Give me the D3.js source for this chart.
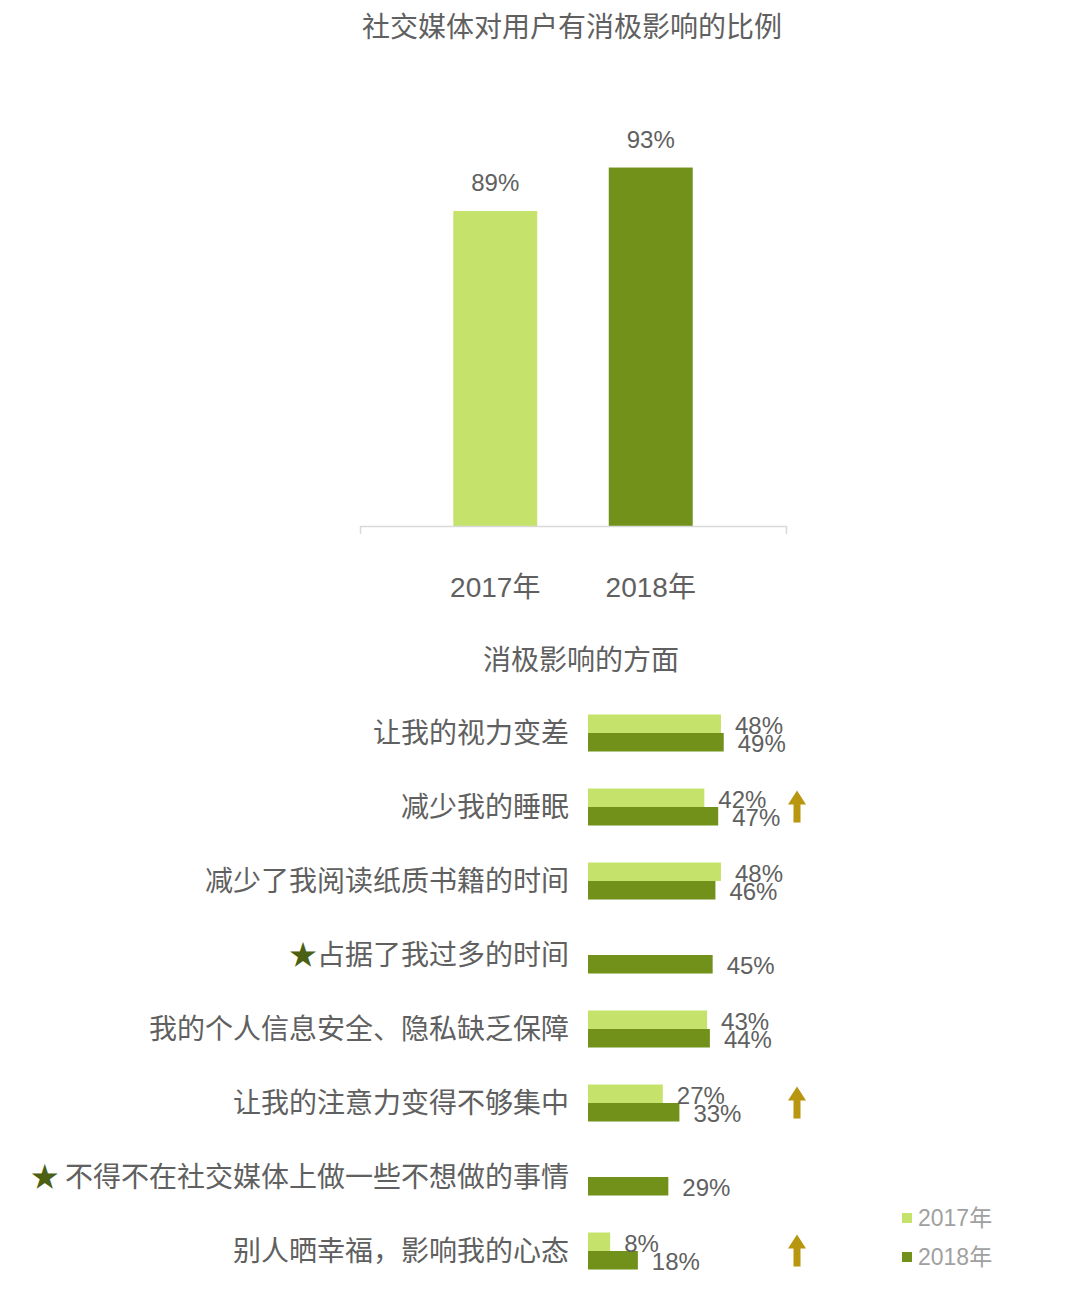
<!DOCTYPE html>
<html>
<head>
<meta charset="utf-8">
<script src="https://cdn.jsdelivr.net/npm/d3@7"></script>
<style>
  body { margin: 0; background: #fff; }
  svg { display: block; font-family: "Liberation Sans", "Noto Sans CJK SC", sans-serif; }
</style>
</head>
<body>
<svg id="chart"></svg>
<script>
// Top chart data
const years = ["2017年", "2018年"];
const overall = [89, 93];

// Bottom chart data
const aspects = [
  "让我的视力变差",
  "减少我的睡眠",
  "减少了我阅读纸质书籍的时间",
  "★占据了我过多的时间",
  "我的个人信息安全、隐私缺乏保障",
  "让我的注意力变得不够集中",
  "★ 不得不在社交媒体上做一些不想做的事情",
  "别人晒幸福，影响我的心态"
];
const v2017 = [48, 42, 48, null, 43, 27, null, 8];
const v2018 = [49, 47, 46, 45, 44, 33, 29, 18];
const rising = ["减少我的睡眠", "让我的注意力变得不够集中", "别人晒幸福，影响我的心态"];

const width = 1079, height = 1291;
const light = "#c5e36a", dark = "#71911b";
const textGray = "#606060";

const svg = d3.select("#chart").attr("width", width).attr("height", height);

// Titles
svg.append("text")
  .attr("x", 572).attr("y", 37)
  .attr("text-anchor", "middle")
  .attr("font-family", "Noto Sans CJK SC")
  .attr("font-size", 28)
  .attr("fill", textGray)
  .text("社交媒体对用户有消极影响的比例");

svg.append("text")
  .attr("x", 581).attr("y", 670)
  .attr("text-anchor", "middle")
  .attr("font-family", "Noto Sans CJK SC")
  .attr("font-size", 28)
  .attr("fill", textGray)
  .text("消极影响的方面");

// ---- Top chart ----
const x = d3.scaleBand()
  .domain(years)
  .range([360, 786])
  .paddingInner(0.46)
  .paddingOuter(0.6);

const y = d3.scaleLinear()
  .domain([60, 100])
  .range([526, 91.5]);

const topData = years.map((yr, i) => ({ year: yr, value: overall[i] }));

svg.selectAll(".top-bar")
  .data(topData)
  .enter()
  .append("rect")
  .attr("class", "top-bar")
  .attr("x", d => x(d.year))
  .attr("y", d => y(d.value))
  .attr("width", x.bandwidth())
  .attr("height", d => y(60) - y(d.value))
  .attr("fill", (d, i) => i === 0 ? light : dark);

svg.selectAll(".top-label")
  .data(topData)
  .enter()
  .append("text")
  .attr("class", "top-label")
  .attr("x", d => x(d.year) + x.bandwidth() / 2)
  .attr("y", d => y(d.value) - 20)
  .attr("text-anchor", "middle")
  .attr("font-size", 24)
  .attr("fill", textGray)
  .text(d => d.value + "%");

const xAxis = svg.append("g")
  .attr("transform", "translate(0,526)")
  .call(d3.axisBottom(x).tickSizeInner(0).tickSizeOuter(8).tickPadding(51));
xAxis.select(".domain").attr("stroke", "#d9d9d9").attr("stroke-width", 1.5);
xAxis.selectAll(".tick text")
  .attr("font-size", 28)
  .attr("font-family", "Liberation Sans, Noto Sans CJK SC")
  .attr("fill", textGray);

// ---- Bottom chart ----
const yRow = d3.scaleBand()
  .domain(aspects)
  .range([696, 1288])
  .paddingInner(0.5)
  .paddingOuter(0.25);

const yYear = d3.scaleBand()
  .domain(["2017", "2018"])
  .range([0, yRow.bandwidth()]);

const xv = d3.scaleLinear().domain([0, 100]).range([588, 865]);

const rows = aspects.map((a, i) => ({ name: a, a: v2017[i], b: v2018[i] }));

const bars = [];
rows.forEach(r => {
  if (r.a != null) bars.push({ name: r.name, year: "2017", value: r.a });
  bars.push({ name: r.name, year: "2018", value: r.b });
});

svg.selectAll(".h-bar")
  .data(bars)
  .enter()
  .append("rect")
  .attr("class", "h-bar")
  .attr("x", xv(0))
  .attr("y", d => yRow(d.name) + yYear(d.year))
  .attr("width", d => xv(d.value) - xv(0))
  .attr("height", yYear.bandwidth())
  .attr("fill", d => d.year === "2017" ? light : dark);

svg.selectAll(".h-label")
  .data(bars)
  .enter()
  .append("text")
  .attr("class", "h-label")
  .attr("x", d => xv(d.value) + 14)
  .attr("y", d => yRow(d.name) + yYear(d.year) + yYear.bandwidth() / 2 + 10)
  .attr("font-size", 24)
  .attr("fill", textGray)
  .text(d => d.value + "%");

// Category labels (star prefix drawn in green)
const catLabel = svg.selectAll(".cat")
  .data(aspects)
  .enter()
  .append("text")
  .attr("class", "cat")
  .attr("x", 569)
  .attr("y", d => yRow(d) + yRow.bandwidth() / 2 + 10)
  .attr("text-anchor", "end")
  .attr("font-family", "Noto Sans CJK SC")
  .attr("font-size", 28)
  .attr("fill", textGray);

catLabel.each(function(d) {
  const t = d3.select(this);
  if (d.startsWith("★")) {
    t.append("tspan").attr("fill", "#4b6012").text("★");
    t.append("tspan").attr("xml:space", "preserve").text(d.slice(1));
  } else {
    t.text(d);
  }
});

// Up arrows for rising items
const arrow = d3.path();
svg.selectAll(".arrow")
  .data(rising)
  .enter()
  .append("path")
  .attr("class", "arrow")
  .attr("transform", d => `translate(797,${yRow(d) + 2})`)
  .attr("d", () => {
    const h = yRow.bandwidth() - 5;
    return `M0,0 L9,14 L3.5,14 L3.5,${h} L-3.5,${h} L-3.5,14 L-9,14 Z`;
  })
  .attr("fill", "#b8960f");

// Legend
const legend = svg.append("g")
  .selectAll("g")
  .data(["2017年", "2018年"])
  .enter()
  .append("g")
  .attr("transform", (d, i) => `translate(902,${1218 + i * 39})`);

legend.append("rect")
  .attr("x", 0).attr("y", -5)
  .attr("width", 10).attr("height", 10)
  .attr("fill", (d, i) => i === 0 ? light : dark);

legend.append("text")
  .attr("x", 16).attr("y", 8)
  .attr("font-size", 23)
  .attr("fill", "#a0a0a0")
  .text(d => d);
</script>
</body>
</html>
